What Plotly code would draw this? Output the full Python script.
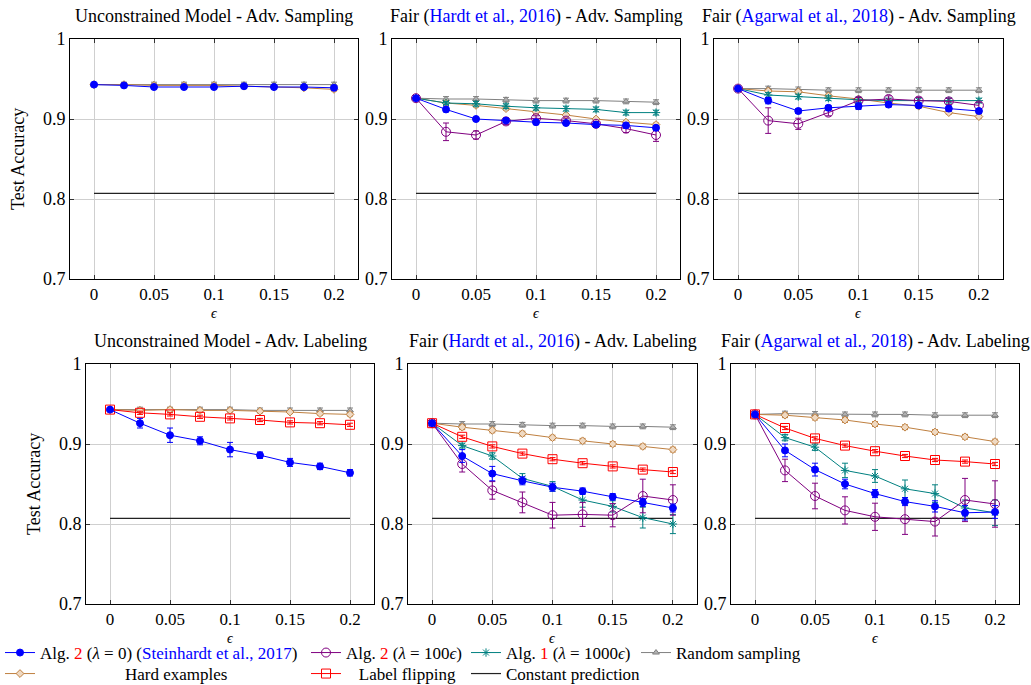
import plotly.graph_objects as go

eps = [0, 0.025, 0.05, 0.075, 0.1, 0.125, 0.15, 0.175, 0.2]
x_ticks = [0, 0.05, 0.1, 0.15, 0.2]
x_ticktext = ["0", "0.05", "0.1", "0.15", "0.2"]
y_ticks = [0.7, 0.8, 0.9, 1.0]
y_ticktext = ["0.7", "0.8", "0.9", "1"]
const_pred = 0.807

# ---- Adv. Sampling, Unconstrained ----
su_A = [0.943, 0.942, 0.940, 0.940, 0.940, 0.941, 0.940, 0.940, 0.939]
su_A_err = [0.001, 0.002, 0.002, 0.002, 0.002, 0.002, 0.002, 0.002, 0.002]
su_H = [0.943, 0.943, 0.942, 0.942, 0.942, 0.941, 0.940, 0.939, 0.937]
su_H_err = [0.001, 0.002, 0.002, 0.002, 0.002, 0.002, 0.002, 0.002, 0.002]
su_R = [0.943, 0.943, 0.943, 0.943, 0.943, 0.943, 0.943, 0.943, 0.943]
su_R_err = [0.001, 0.003, 0.003, 0.003, 0.003, 0.003, 0.003, 0.003, 0.003]

# ---- Adv. Sampling, Hardt ----
sh_A = [0.926, 0.912, 0.900, 0.898, 0.896, 0.895, 0.893, 0.892, 0.889]
sh_A_err = [0.001, 0.003, 0.002, 0.002, 0.003, 0.002, 0.003, 0.003, 0.003]
sh_B = [0.926, 0.884, 0.880, 0.897, 0.901, 0.898, 0.894, 0.888, 0.880]
sh_B_err = [0.001, 0.011, 0.005, 0.004, 0.003, 0.003, 0.003, 0.005, 0.008]
sh_C = [0.926, 0.920, 0.919, 0.916, 0.914, 0.913, 0.912, 0.908, 0.908]
sh_C_err = [0.001, 0.002, 0.003, 0.003, 0.003, 0.003, 0.003, 0.003, 0.003]
sh_R = [0.926, 0.925, 0.925, 0.924, 0.923, 0.923, 0.923, 0.922, 0.921]
sh_R_err = [0.001, 0.003, 0.003, 0.003, 0.003, 0.003, 0.003, 0.003, 0.003]
sh_H = [0.926, 0.920, 0.917, 0.913, 0.909, 0.905, 0.900, 0.896, 0.893]
sh_H_err = [0.001, 0.002, 0.002, 0.002, 0.002, 0.002, 0.002, 0.002, 0.002]

# ---- Adv. Sampling, Agarwal ----
sa_A = [0.938, 0.923, 0.910, 0.914, 0.916, 0.918, 0.917, 0.913, 0.910]
sa_A_err = [0.001, 0.004, 0.003, 0.003, 0.004, 0.003, 0.003, 0.003, 0.003]
sa_B = [0.938, 0.898, 0.894, 0.908, 0.923, 0.925, 0.923, 0.922, 0.917]
sa_B_err = [0.001, 0.016, 0.007, 0.004, 0.004, 0.004, 0.004, 0.004, 0.004]
sa_C = [0.938, 0.930, 0.928, 0.926, 0.924, 0.923, 0.923, 0.923, 0.923]
sa_C_err = [0.001, 0.003, 0.003, 0.003, 0.003, 0.003, 0.003, 0.003, 0.003]
sa_R = [0.938, 0.938, 0.937, 0.936, 0.936, 0.936, 0.936, 0.936, 0.936]
sa_R_err = [0.001, 0.003, 0.003, 0.003, 0.003, 0.003, 0.003, 0.003, 0.003]
sa_H = [0.938, 0.935, 0.934, 0.929, 0.925, 0.920, 0.916, 0.908, 0.903]
sa_H_err = [0.001, 0.002, 0.002, 0.002, 0.002, 0.002, 0.002, 0.002, 0.002]

# ---- Adv. Labeling, Unconstrained ----
lu_A = [0.943, 0.926, 0.911, 0.904, 0.893, 0.886, 0.877, 0.872, 0.864]
lu_A_err = [0.001, 0.006, 0.009, 0.005, 0.009, 0.004, 0.005, 0.004, 0.004]
lu_R = [0.943, 0.943, 0.943, 0.943, 0.943, 0.942, 0.942, 0.942, 0.942]
lu_R_err = [0.001, 0.003, 0.003, 0.003, 0.003, 0.003, 0.003, 0.003, 0.003]
lu_H = [0.943, 0.942, 0.943, 0.942, 0.942, 0.941, 0.940, 0.938, 0.937]
lu_H_err = [0.001, 0.002, 0.002, 0.002, 0.002, 0.002, 0.002, 0.002, 0.002]
lu_L = [0.943, 0.939, 0.937, 0.934, 0.932, 0.930, 0.927, 0.926, 0.924]
lu_L_err = [0.001, 0.002, 0.002, 0.002, 0.002, 0.002, 0.002, 0.002, 0.002]

# ---- Adv. Labeling, Hardt ----
lh_A = [0.926, 0.885, 0.863, 0.854, 0.846, 0.841, 0.834, 0.827, 0.820]
lh_A_err = [0.001, 0.008, 0.009, 0.005, 0.005, 0.004, 0.004, 0.005, 0.005]
lh_B = [0.926, 0.875, 0.842, 0.827, 0.811, 0.812, 0.811, 0.835, 0.830]
lh_B_err = [0.001, 0.010, 0.011, 0.013, 0.016, 0.015, 0.0145, 0.021, 0.019]
lh_C = [0.926, 0.898, 0.885, 0.857, 0.847, 0.830, 0.822, 0.808, 0.800]
lh_C_err = [0.001, 0.003, 0.004, 0.006, 0.006, 0.009, 0.007, 0.013, 0.012]
lh_R = [0.926, 0.925, 0.925, 0.924, 0.923, 0.923, 0.922, 0.922, 0.921]
lh_R_err = [0.001, 0.003, 0.003, 0.003, 0.003, 0.003, 0.003, 0.003, 0.003]
lh_H = [0.926, 0.921, 0.917, 0.913, 0.908, 0.904, 0.900, 0.897, 0.893]
lh_H_err = [0.001, 0.003, 0.003, 0.003, 0.003, 0.003, 0.003, 0.003, 0.003]
lh_L = [0.926, 0.909, 0.897, 0.888, 0.881, 0.876, 0.872, 0.868, 0.865]
lh_L_err = [0.001, 0.002, 0.002, 0.002, 0.002, 0.002, 0.002, 0.002, 0.002]

# ---- Adv. Labeling, Agarwal ----
la_A = [0.937, 0.892, 0.868, 0.850, 0.838, 0.828, 0.822, 0.814, 0.815]
la_A_err = [0.001, 0.008, 0.008, 0.006, 0.005, 0.005, 0.007, 0.009, 0.008]
la_B = [0.937, 0.867, 0.835, 0.817, 0.809, 0.806, 0.803, 0.830, 0.825]
la_B_err = [0.001, 0.014, 0.016, 0.017, 0.017, 0.019, 0.018, 0.027, 0.029]
la_C = [0.937, 0.908, 0.896, 0.867, 0.860, 0.844, 0.838, 0.820, 0.814]
la_C_err = [0.001, 0.004, 0.004, 0.009, 0.008, 0.011, 0.011, 0.010, 0.016]
la_R = [0.937, 0.938, 0.9375, 0.937, 0.937, 0.937, 0.936, 0.936, 0.936]
la_R_err = [0.001, 0.003, 0.003, 0.003, 0.003, 0.003, 0.003, 0.003, 0.003]
la_H = [0.937, 0.936, 0.933, 0.930, 0.925, 0.921, 0.915, 0.909, 0.903]
la_H_err = [0.001, 0.003, 0.003, 0.003, 0.003, 0.003, 0.003, 0.003, 0.003]
la_L = [0.937, 0.920, 0.907, 0.898, 0.891, 0.885, 0.880, 0.878, 0.875]
la_L_err = [0.001, 0.002, 0.002, 0.002, 0.002, 0.002, 0.002, 0.002, 0.002]

titles = [
    "Unconstrained Model - Adv. Sampling",
    'Fair (<span style="color:#0000ff">Hardt et al., 2016</span>) - Adv. Sampling',
    'Fair (<span style="color:#0000ff">Agarwal et al., 2018</span>) - Adv. Sampling',
    "Unconstrained Model - Adv. Labeling",
    'Fair (<span style="color:#0000ff">Hardt et al., 2016</span>) - Adv. Labeling',
    'Fair (<span style="color:#0000ff">Agarwal et al., 2018</span>) - Adv. Labeling',
]

SERIF = "Liberation Serif"
NB = "\u00a0"
series_style = {
    "A": dict(name='Alg. <span style="color:#ff0000">2</span> (<i>λ</i> = 0) (<span style="color:#0000ff">Steinhardt et al., 2017</span>)',
              color="#0000ff", marker=dict(symbol="circle", size=7, color="#0000ff", line=dict(color="#0000ff", width=1)),
              legend="legend"),
    "B": dict(name='Alg. <span style="color:#ff0000">2</span> (<i>λ</i> = 100<i>ϵ</i>)',
              color="#800080", marker=dict(symbol="circle-open", size=9, color="#800080", line=dict(color="#800080", width=1)),
              legend="legend2"),
    "C": dict(name='Alg. <span style="color:#ff0000">1</span> (<i>λ</i> = 1000<i>ϵ</i>)',
              color="#008080", marker=dict(symbol="asterisk-open", size=7, color="#008080", line=dict(color="#008080", width=1)),
              legend="legend3"),
    "R": dict(name="Random sampling",
              color="#808080", marker=dict(symbol="triangle-up", size=6, color="#b0b0b0", line=dict(color="#808080", width=1)),
              legend="legend4"),
    "H": dict(name=NB * 20 + "Hard examples",
              color="#bf8040", marker=dict(symbol="diamond", size=6, color="#efd9c2", line=dict(color="#bf8040", width=1)),
              legend="legend5"),
    "L": dict(name=NB * 3 + "Label flipping",
              color="#ff0000", marker=dict(symbol="square-open", size=9, color="#ff0000", line=dict(color="#ff0000", width=1)),
              legend="legend6"),
}

panels = [
    dict(A=(su_A, su_A_err), H=(su_H, su_H_err), R=(su_R, su_R_err)),
    dict(A=(sh_A, sh_A_err), B=(sh_B, sh_B_err), C=(sh_C, sh_C_err), R=(sh_R, sh_R_err), H=(sh_H, sh_H_err)),
    dict(A=(sa_A, sa_A_err), B=(sa_B, sa_B_err), C=(sa_C, sa_C_err), R=(sa_R, sa_R_err), H=(sa_H, sa_H_err)),
    dict(A=(lu_A, lu_A_err), R=(lu_R, lu_R_err), H=(lu_H, lu_H_err), L=(lu_L, lu_L_err)),
    dict(A=(lh_A, lh_A_err), B=(lh_B, lh_B_err), C=(lh_C, lh_C_err), R=(lh_R, lh_R_err), H=(lh_H, lh_H_err), L=(lh_L, lh_L_err)),
    dict(A=(la_A, la_A_err), B=(la_B, la_B_err), C=(la_C, la_C_err), R=(la_R, la_R_err), H=(la_H, la_H_err), L=(la_L, la_L_err)),
]

W, H = 1031, 685
boxes = [
    (70, 358, 39, 279), (392, 680, 39, 279), (714, 1003, 39, 279),
    (86, 374, 364, 604), (408, 697, 364, 604), (731, 1019, 364, 604),
]

fig = go.Figure()
order = ["R", "H", "C", "B", "L", "A"]
for i, p in enumerate(panels):
    xa = "x" if i == 0 else f"x{i+1}"
    ya = "y" if i == 0 else f"y{i+1}"
    fig.add_trace(go.Scatter(
        x=[eps[0], eps[-1]], y=[const_pred, const_pred], mode="lines", name="Constant prediction",
        line=dict(color="#222222", width=1.2), xaxis=xa, yaxis=ya, legend="legend7", showlegend=(i == 5),
    ))
    for key in order:
        if key not in p:
            continue
        vals, errs = p[key]
        st = series_style[key]
        fig.add_trace(go.Scatter(
            x=eps, y=vals, mode="lines+markers", name=st["name"],
            line=dict(color=st["color"], width=1), marker=st["marker"],
            error_y=dict(type="data", array=errs, visible=True, color=st["color"], thickness=1, width=3),
            xaxis=xa, yaxis=ya, legend=st["legend"], showlegend=(i == 5),
        ))

layout = dict(
    width=W, height=H, margin=dict(l=0, r=0, t=0, b=0, autoexpand=False),
    paper_bgcolor="white", plot_bgcolor="white",
    font=dict(family=SERIF, size=17, color="black"),
)
annotations = []
for i, (l, r, t, b) in enumerate(boxes):
    sfx = "" if i == 0 else str(i + 1)
    layout["xaxis" + sfx] = dict(
        domain=[l / W, r / W], range=[-0.02, 0.22], anchor="y" + sfx, automargin=False,
        tickvals=x_ticks, ticktext=x_ticktext, tickfont=dict(family=SERIF, size=17),
        showgrid=True, gridcolor="#cfcfcf", gridwidth=1, zeroline=False,
        showline=True, linecolor="black", linewidth=1, mirror="ticks",
        ticks="inside", ticklen=4, tickcolor="#333333",
    )
    layout["yaxis" + sfx] = dict(
        domain=[1 - b / H, 1 - t / H], range=[0.7, 1.0], anchor="x" + sfx, automargin=False,
        tickvals=y_ticks, ticktext=y_ticktext, tickfont=dict(family=SERIF, size=18),
        showgrid=True, gridcolor="#cfcfcf", gridwidth=1, zeroline=False,
        showline=True, linecolor="black", linewidth=1, mirror="ticks",
        ticks="inside", ticklen=4, tickcolor="#333333",
    )
    cx = (l + r) / 2
    annotations.append(dict(text=titles[i], x=cx / W, y=1 - (t - 23) / H, xref="paper", yref="paper",
                            showarrow=False, xanchor="center", yanchor="middle", font=dict(family=SERIF, size=18)))
    annotations.append(dict(text="<i>ϵ</i>", x=cx / W, y=1 - (b + 34) / H, xref="paper", yref="paper",
                            showarrow=False, xanchor="center", yanchor="middle", font=dict(family=SERIF, size=14)))
    if i in (0, 3):
        annotations.append(dict(text="Test Accuracy", x=(l - 52) / W, y=1 - ((t + b) / 2) / H, xref="paper", yref="paper",
                                showarrow=False, xanchor="center", yanchor="middle", textangle=-90,
                                font=dict(family=SERIF, size=18)))
layout["annotations"] = annotations

leg_common = dict(orientation="v", yanchor="middle", xanchor="left", bgcolor="rgba(0,0,0,0)",
                  font=dict(family=SERIF, size=17), tracegroupgap=0, itemwidth=30)
row1 = 1 - 653 / H
row2 = 1 - 674 / H
legend_pos = {
    "legend": (0, row1), "legend2": (306, row1), "legend3": (466, row1), "legend4": (636, row1),
    "legend5": (0, row2), "legend6": (306, row2), "legend7": (466, row2),
}
for name, (px, py) in legend_pos.items():
    layout[name] = dict(x=px / W, y=py, **leg_common)

fig.update_layout(**layout)
fig.write_html("out.html")
